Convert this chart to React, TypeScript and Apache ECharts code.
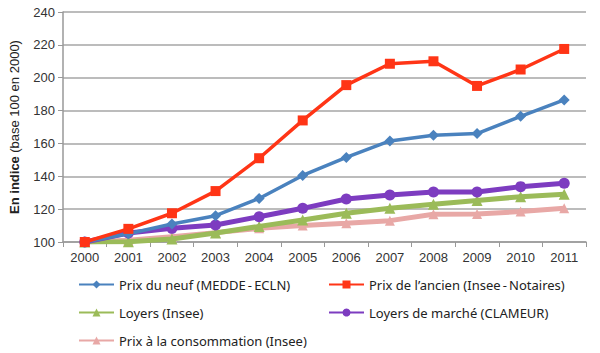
import React, { useEffect, useRef } from "react";
import * as echarts from "echarts";

const years = ["2000", "2001", "2002", "2003", "2004", "2005", "2006", "2007", "2008", "2009", "2010", "2011"];
const prixNeuf = [100, 105, 111, 116, 126.5, 140.5, 151.5, 161.5, 165, 166, 176.5, 186.5];
const prixAncien = [100, 108, 117.5, 131, 151, 174, 195.5, 208.5, 210, 195, 205, 217.5];
const loyers = [100, 100.2, 101.8, 105.5, 109.5, 113.4, 117.5, 120.5, 123, 125.2, 127.6, 129];
const loyersMarche = [100, 105.5, 108.3, 110.3, 115.4, 120.5, 126.2, 128.6, 130.4, 130.4, 133.7, 135.7];
const prixConso = [100, 101, 103.2, 105.7, 108.3, 110, 111.4, 113, 116.9, 117, 118.5, 120.5];

const names = [
  "Prix du neuf (MEDDE\u2009-\u2009ECLN)",
  "Prix de l’ancien (Insee\u2009-\u2009Notaires)",
  "Loyers (Insee)",
  "Loyers de marché (CLAMEUR)",
  "Prix à la consommation (Insee)",
];

export default function App() {
  const ref = useRef<HTMLDivElement>(null);
  useEffect(() => {
    if (!ref.current) return;
    const chart = echarts.init(ref.current, null, { renderer: "svg" });
    const mk = (name: string, data: number[], color: string, symbol: string, width: number, size: number, z: number) => ({
      name,
      type: "line",
      data,
      symbol,
      symbolSize: size,
      z,
      lineStyle: { color, width },
      itemStyle: { color },
    });
    const legendCommon = {
      orient: "vertical",
      itemWidth: 35,
      itemHeight: 10,
      itemGap: 15,
      textStyle: { fontFamily: "Noto Sans", fontSize: 13, color: "#222" },
    };
    chart.setOption({
      animation: false,
      grid: { left: 62, right: 14, top: 12, bottom: 111 },
      legend: [
        { ...legendCommon, left: 73, top: 273, data: [names[0], names[2], names[4]] },
        { ...legendCommon, left: 323, top: 273, data: [names[1], names[3]] },
      ],
      xAxis: {
        type: "category",
        data: years,
        boundaryGap: true,
        axisLine: { lineStyle: { color: "#999", width: 1.5 } },
        axisTick: { show: true, length: 5, lineStyle: { color: "#999" } },
        axisLabel: { fontFamily: "Liberation Sans", fontSize: 13, color: "#333", margin: 9 },
      },
      yAxis: {
        type: "value",
        min: 100,
        max: 240,
        interval: 20,
        name: "{b|En indice} {n|(base 100 en 2000)}",
        nameLocation: "middle",
        nameRotate: 90,
        nameGap: 42,
        nameTextStyle: {
          rich: {
            b: { fontFamily: "Liberation Sans", fontSize: 13, fontWeight: "bold", color: "#222" },
            n: { fontFamily: "Liberation Sans", fontSize: 13, color: "#222" },
          },
        },
        axisLine: { show: true, lineStyle: { color: "#999", width: 1.5 } },
        axisTick: { show: true, length: 5, lineStyle: { color: "#999" } },
        axisLabel: { fontFamily: "Liberation Sans", fontSize: 13, color: "#333", margin: 8 },
        splitLine: { lineStyle: { color: "#a6a6a6", width: 1.5 } },
      },
      series: [
        mk(names[4], prixConso, "#e8a8a6", "triangle", 5, 10, 2),
        mk(names[2], loyers, "#9bbb59", "triangle", 5, 11, 3),
        mk(names[3], loyersMarche, "#7d3cc0", "circle", 5, 11, 4),
        mk(names[0], prixNeuf, "#4a82be", "diamond", 3.5, 11, 5),
        mk(names[1], prixAncien, "#ff3516", "rect", 3.5, 10, 6),
      ],
    });
    return () => chart.dispose();
  }, []);
  return <div ref={ref} style={{ width: 600, height: 353, position: "absolute", left: 0, top: 0 }} />;
}
